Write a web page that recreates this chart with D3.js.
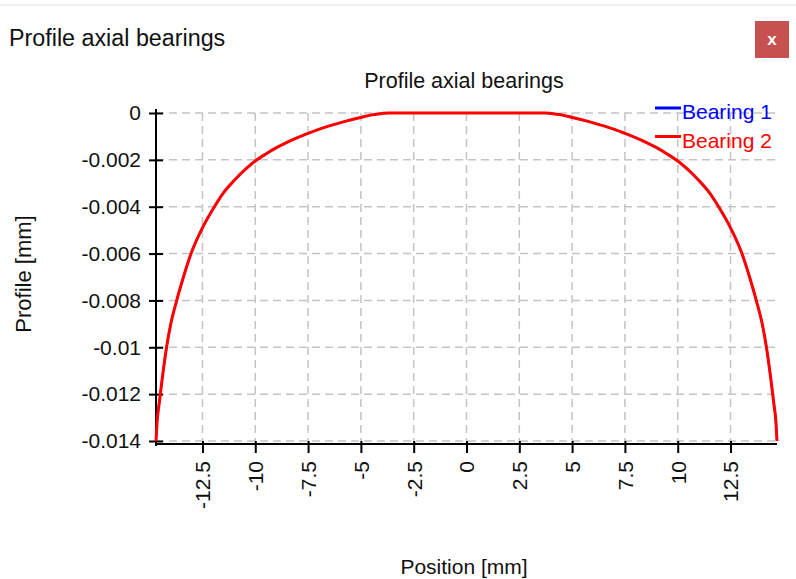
<!DOCTYPE html>
<html>
<head>
<meta charset="utf-8">
<script src="https://cdn.jsdelivr.net/npm/d3@7"></script>
<style>
  html, body { margin: 0; padding: 0; background: #fff; }
  svg { display: block; }
  text { font-family: "Liberation Sans", Arial, sans-serif; fill: #111; }
</style>
</head>
<body>
<svg id="chart" width="796" height="579"></svg>
<script>
// ---- data ----
const windowTitle = "Profile axial bearings";
const chartTitle = "Profile axial bearings";
const xLabel = "Position [mm]";
const yLabel = "Profile [mm]";
const seriesNames = ["Bearing 1", "Bearing 2"];
const seriesColors = ["#0000ff", "#ff0000"];

const xTicks = [-12.5, -10, -7.5, -5, -2.5, 0, 2.5, 5, 7.5, 10, 12.5];
const xTickLabels = ["-12.5", "-10", "-7.5", "-5", "-2.5", "0", "2.5", "5", "7.5", "10", "12.5"];
const yTicks = [0, -0.002, -0.004, -0.006, -0.008, -0.01, -0.012, -0.014];
const yTickLabels = ["0", "-0.002", "-0.004", "-0.006", "-0.008", "-0.01", "-0.012", "-0.014"];

const positions = [
  -14.7, -14.65, -14.55, -14.4, -14.2, -14.0, -13.75, -13.5, -13.0, -12.5, -12.0, -11.5, -11.0, -10.5, -10.0,
  -9.5, -9.0, -8.5, -8.0, -7.5, -7.0, -6.5, -6.0, -5.5, -5.0, -4.5, -4.0, -3.7,
  3.7, 4.0, 4.5, 5.0, 5.5, 6.0, 6.5, 7.0, 7.5, 8.0, 8.5, 9.0, 9.5,
  10.0, 10.5, 11.0, 11.5, 12.0, 12.5, 13.0, 13.5, 13.75, 14.0, 14.2, 14.4, 14.55, 14.65, 14.7
];
const bearing1 = [
  -0.014, -0.0132, -0.0124, -0.0113, -0.0100, -0.0090, -0.0081, -0.0073, -0.0059, -0.0049, -0.0041, -0.0034, -0.00288, -0.00243, -0.00205,
  -0.00175, -0.00148, -0.00125, -0.00105, -0.00087, -0.0007, -0.00055, -0.00042, -0.0003, -0.00019, -0.00008, -0.00002, 0,
  0, -0.00002, -0.00008, -0.00019, -0.0003, -0.00042, -0.00055, -0.0007, -0.00087, -0.00105, -0.00125, -0.00148, -0.00175,
  -0.00205, -0.00243, -0.00288, -0.0034, -0.0041, -0.0049, -0.0059, -0.0073, -0.0081, -0.0090, -0.0100, -0.0113, -0.0124, -0.0132, -0.014
];
const bearing2 = [
  -0.014, -0.0132, -0.0124, -0.0113, -0.0100, -0.0090, -0.0081, -0.0073, -0.0059, -0.0049, -0.0041, -0.0034, -0.00288, -0.00243, -0.00205,
  -0.00175, -0.00148, -0.00125, -0.00105, -0.00087, -0.0007, -0.00055, -0.00042, -0.0003, -0.00019, -0.00008, -0.00002, 0,
  0, -0.00002, -0.00008, -0.00019, -0.0003, -0.00042, -0.00055, -0.0007, -0.00087, -0.00105, -0.00125, -0.00148, -0.00175,
  -0.00205, -0.00243, -0.00288, -0.0034, -0.0041, -0.0049, -0.0059, -0.0073, -0.0081, -0.0090, -0.0100, -0.0113, -0.0124, -0.0132, -0.014
];
const series = [bearing1, bearing2];

// ---- layout ----
const svg = d3.select("#chart");
const plot = { left: 156, right: 777, top: 113, bottom: 441 };
const xAxisY = 444;

const x = d3.scaleLinear().domain([-14.7, 14.7]).range([plot.left, plot.right]);
const y = d3.scaleLinear().domain([-0.014, 0]).range([plot.bottom, plot.top]);

// faint top border
svg.append("line").attr("x1", 0).attr("x2", 796).attr("y1", 5).attr("y2", 5)
  .attr("stroke", "#f0f0f0").attr("stroke-width", 2);

// window title
svg.append("text").attr("x", 9).attr("y", 46).attr("font-size", 23.3).text(windowTitle);

// close button
svg.append("rect").attr("x", 755).attr("y", 21).attr("width", 34).attr("height", 37).attr("fill", "#c75050");
svg.append("text").attr("x", 772).attr("y", 45).attr("text-anchor", "middle")
  .attr("font-size", 17).attr("font-weight", "bold").style("fill", "#fff").text("x");

// chart title
svg.append("text").attr("x", 464).attr("y", 88).attr("text-anchor", "middle")
  .attr("font-size", 21.5).text(chartTitle);

// grid
const grid = svg.append("g").attr("stroke", "#c4c4c4").attr("stroke-width", 1.5).attr("stroke-dasharray", "8,5");
grid.selectAll("line.v").data(xTicks).join("line").attr("class", "v")
  .attr("x1", d => x(d)).attr("x2", d => x(d)).attr("y1", plot.top).attr("y2", plot.bottom);
grid.selectAll("line.h").data(yTicks).join("line").attr("class", "h")
  .attr("x1", plot.left).attr("x2", plot.right).attr("y1", d => y(d)).attr("y2", d => y(d));

// y axis
const yAxis = svg.append("g").attr("transform", `translate(${plot.left},0)`)
  .call(d3.axisLeft(y).tickValues(yTicks).tickFormat((d, i) => yTickLabels[i]).tickSize(7).tickPadding(8));
yAxis.select(".domain").attr("d", `M0,${plot.top - 4}V${xAxisY + 2}`).attr("stroke", "#000").attr("stroke-width", 2);
yAxis.selectAll(".tick line").attr("x1", -7).attr("x2", 7).attr("stroke", "#000").attr("stroke-width", 2);
yAxis.selectAll(".tick text").attr("font-size", 21).attr("font-family", "Liberation Sans, Arial, sans-serif").style("fill", "#111");

// x axis
const xAxis = svg.append("g").attr("transform", `translate(0,${xAxisY})`)
  .call(d3.axisBottom(x).tickValues(xTicks).tickFormat((d, i) => xTickLabels[i]).tickSize(9));
xAxis.select(".domain").attr("d", `M${plot.left},0H${plot.right}`).attr("stroke", "#000").attr("stroke-width", 2);
xAxis.selectAll(".tick line").attr("y1", -3).attr("y2", 9).attr("stroke", "#000").attr("stroke-width", 2);
xAxis.selectAll(".tick text")
  .attr("font-size", 21).attr("font-family", "Liberation Sans, Arial, sans-serif").style("fill", "#111")
  .attr("text-anchor", "end").attr("x", 0).attr("y", 0).attr("dy", "0.35em")
  .attr("transform", "translate(0,17) rotate(-90)");

// axis labels
svg.append("text").attr("transform", "translate(31,274) rotate(-90)").attr("text-anchor", "middle")
  .attr("font-size", 22).text(yLabel);
svg.append("text").attr("x", 464).attr("y", 574).attr("text-anchor", "middle")
  .attr("font-size", 21).text(xLabel);

// lines
const line = d3.line().x((d, i) => x(positions[i])).y(d => y(d)).curve(d3.curveMonotoneX);
series.forEach((s, k) => {
  svg.append("path").datum(s).attr("d", line).attr("fill", "none")
    .attr("stroke", seriesColors[k]).attr("stroke-width", k === 0 ? 2 : 3);
});

// legend
seriesNames.forEach((name, k) => {
  const ly = 108 + k * 28.5;
  svg.append("line").attr("x1", 655).attr("x2", 681).attr("y1", ly).attr("y2", ly)
    .attr("stroke", seriesColors[k]).attr("stroke-width", 3);
  svg.append("text").attr("x", 682).attr("y", ly + 11).attr("font-size", 21)
    .style("fill", seriesColors[k]).text(name);
});
</script>
</body>
</html>
